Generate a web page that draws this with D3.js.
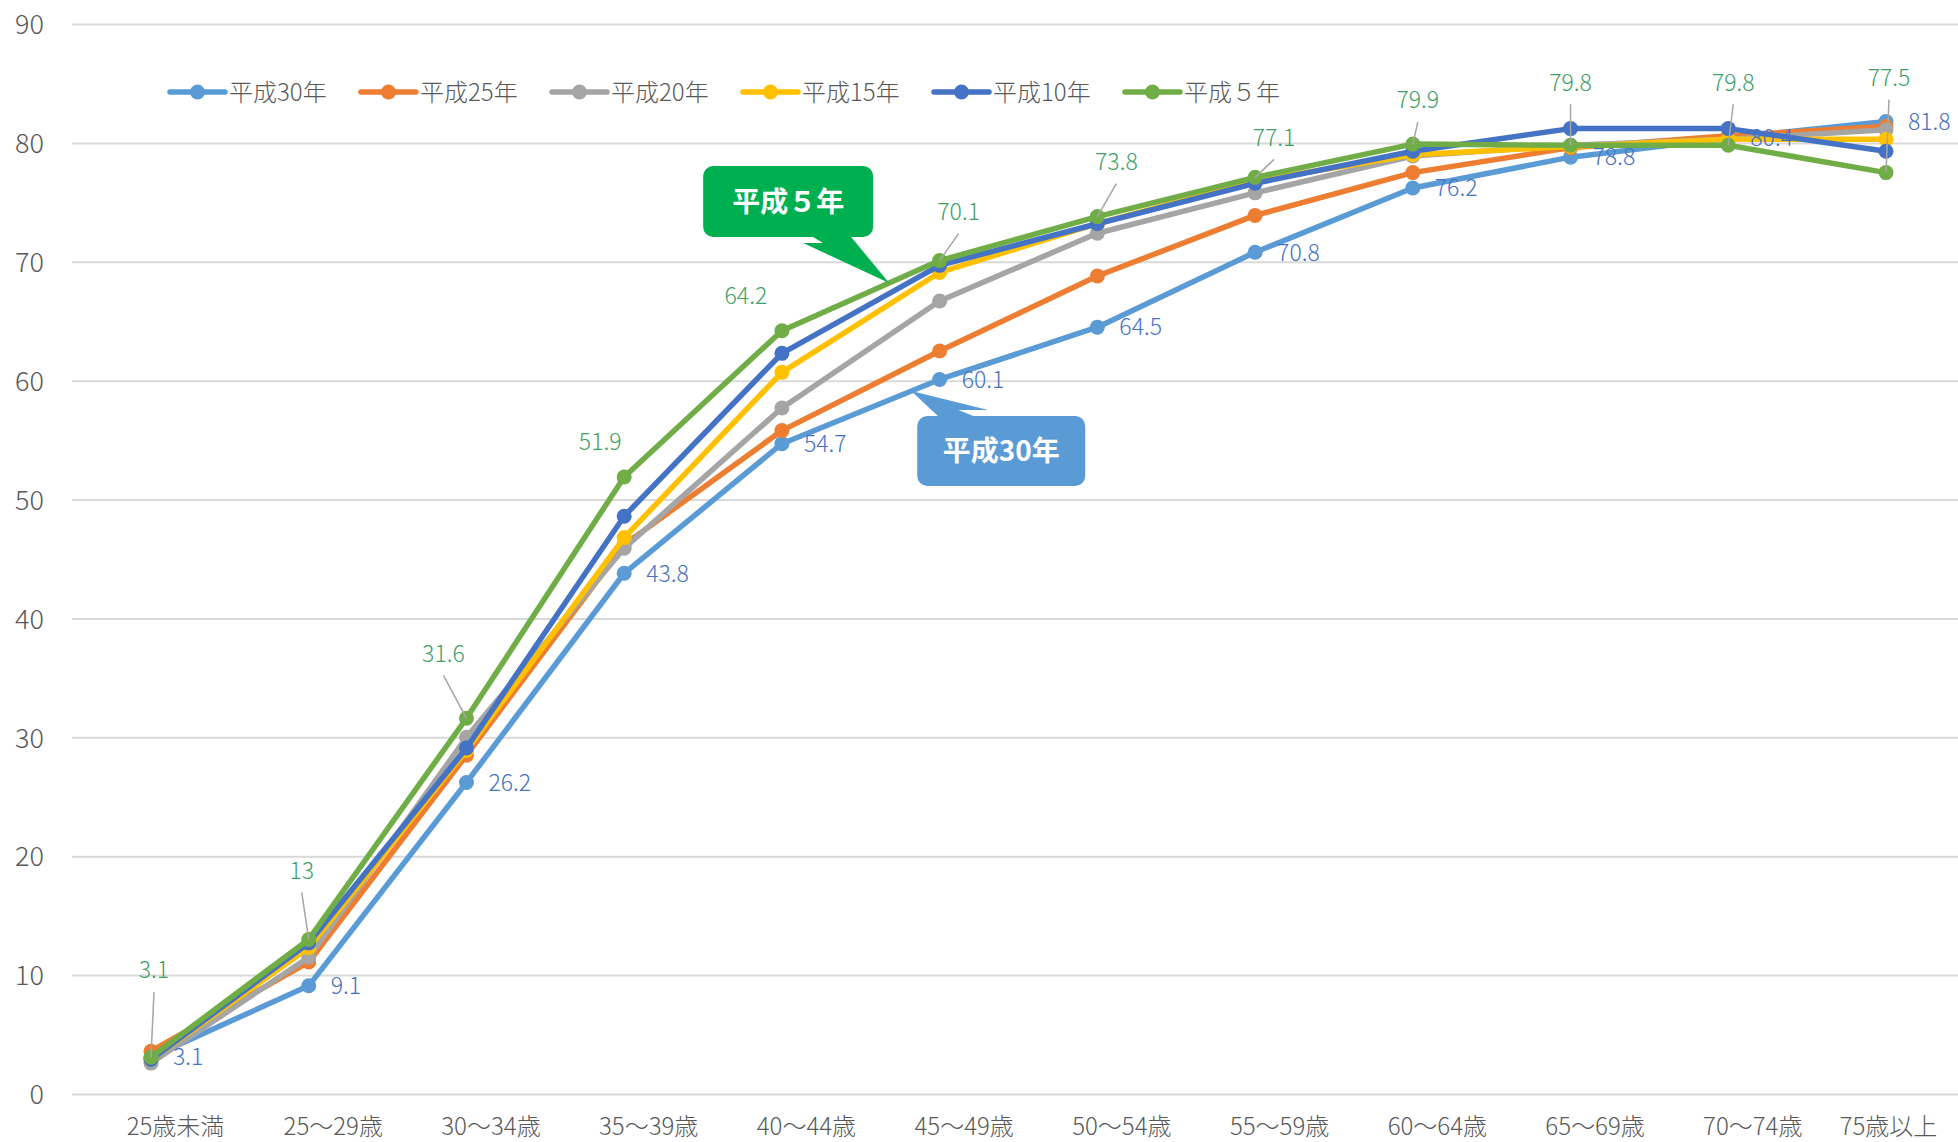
<!DOCTYPE html>
<html>
<head>
<meta charset="utf-8">
<script src="https://cdn.jsdelivr.net/npm/d3@7"></script>
<style>
body { margin: 0; background: #fff; }
text { font-family: "Noto Sans CJK JP", "Noto Sans", sans-serif; font-weight: 300; }
</style>
</head>
<body>
<script>
// categories / series
const categories = ['25歳未満', '25～29歳', '30～34歳', '35～39歳', '40～44歳', '45～49歳',
                    '50～54歳', '55～59歳', '60～64歳', '65～69歳', '70～74歳', '75歳以上'];
const seriesNames = ['平成30年', '平成25年', '平成20年', '平成15年', '平成10年', '平成５年'];

const h30 = [3.1, 9.1, 26.2, 43.8, 54.7, 60.1, 64.5, 70.8, 76.2, 78.8, 80.4, 81.8];
const h25 = [3.6, 11.1, 28.5, 46.2, 55.8, 62.5, 68.8, 73.9, 77.5, 79.6, 80.6, 81.4];
const h20 = [2.6, 11.5, 30.0, 45.9, 57.7, 66.7, 72.4, 75.8, 78.9, 79.8, 80.3, 81.1];
const h15 = [2.9, 12.3, 28.9, 46.8, 60.7, 69.1, 73.2, 76.8, 79.0, 79.7, 80.3, 80.3];
const h10 = [2.9, 12.7, 29.1, 48.6, 62.3, 69.7, 73.2, 76.6, 79.3, 81.2, 81.2, 79.3];
const h5  = [3.1, 13.0, 31.6, 51.9, 64.2, 70.1, 73.8, 77.1, 79.9, 79.8, 79.8, 77.5];

const yTicks = [0, 10, 20, 30, 40, 50, 60, 70, 80, 90];

// label placement for the 平成５年 data labels: [dx, dy, leader line?]
const h5LabelPos = [[3, -87, 1], [-7, -69, 1], [-23, -65, 1], [-24, -35, 0], [-36, -35, 0], [19, -49, 1],
                    [19, -55, 1], [19, -40, 1], [5, -44, 1], [0, -63, 1], [5, -63, 1], [3, -95, 1]];

const colors = ['#5b9bd5', '#ed7d31', '#a5a5a5', '#ffc000', '#4472c4', '#70ad47'];
const allSeries = [h30, h25, h20, h15, h10, h5];

let margin = {top: 24, right: 0, bottom: 48, left: 72},
    width = 1958 - margin.left - margin.right,
    height = 1142 - margin.top - margin.bottom;

let svg = d3.select("body")
            .append("svg")
            .attr('width', width + margin.left + margin.right)
            .attr('height', height + margin.top + margin.bottom);

let g = svg.append("g")
           .attr("transform", `translate(${margin.left}, ${margin.top})`);

let xScale = d3.scalePoint()
    .domain(categories)
    .range([79, 1814]);

let yScale = d3.scaleLinear()
    .domain([0, 90])
    .range([height, 0]);

// gridlines + y labels
const yAxis = d3.axisLeft(yScale)
    .tickValues(yTicks)
    .tickSize(-width)
    .tickPadding(28);

g.append("g")
    .call(yAxis)
    .call(a => a.select(".domain").remove())
    .call(a => a.selectAll(".tick line").attr("stroke", "#d9d9d9").attr("stroke-width", 2))
    .call(a => a.selectAll(".tick text")
        .attr("fill", "#595959")
        .style("font-size", "27px")
        .attr("dy", "0.36em"));

// x labels (Excel nudges them right of the points, last one pulled back in)
const xAxis = d3.axisBottom(xScale).tickSize(0).tickPadding(24);

g.append("g")
    .attr("transform", `translate(0, ${height})`)
    .call(xAxis)
    .call(a => a.select(".domain").remove())
    .call(a => a.selectAll(".tick text")
        .attr("fill", "#595959")
        .style("font-size", "24px")
        .attr("dx", (d, i) => i === categories.length - 1 ? 2 : 24));

// lines
const line = d3.line()
    .x((d, i) => xScale(categories[i]))
    .y(d => yScale(d));

allSeries.forEach((s, k) => {
    g.append("path")
        .datum(s)
        .attr("fill", "none")
        .attr("stroke", colors[k])
        .attr("stroke-width", 5.5)
        .attr("stroke-linejoin", "round")
        .attr("d", line);

    g.selectAll(".pt" + k)
        .data(s)
        .enter()
        .append("circle")
            .attr("cx", (d, i) => xScale(categories[i]))
            .attr("cy", d => yScale(d))
            .attr("r", 7.5)
            .attr("fill", colors[k]);
});

// data labels 平成30年
g.selectAll(".lab30")
    .data(h30)
    .enter()
    .append("text")
        .attr("x", (d, i) => xScale(categories[i]) + 22)
        .attr("y", d => yScale(d))
        .attr("dy", "0.36em")
        .attr("fill", "#4472c4")
        .style("font-size", "23px")
        .text(d => d);

// data labels 平成５年 with leader lines
h5.forEach((d, i) => {
    let px = xScale(categories[i]), py = yScale(d);
    let [dx, dy, lead] = h5LabelPos[i];
    if (lead) {
        g.append("line")
            .attr("x1", px).attr("y1", py)
            .attr("x2", px + dx).attr("y2", py + dy + 22)
            .attr("stroke", "#a6a6a6")
            .attr("stroke-width", 1.5);
    }
    g.append("text")
        .attr("x", px + dx)
        .attr("y", py + dy)
        .attr("dy", "0.36em")
        .attr("text-anchor", "middle")
        .attr("fill", "#3f9f67")
        .style("font-size", "23px")
        .text(d);
});

// callouts
function callout(tip, box, base, fill, label) {
    let c = g.append("g").attr("transform", `translate(${tip[0]}, ${tip[1]})`);
    let baseY = base[2];
    let inset = baseY > 0 ? 6 : -6;
    c.append("path")
        .attr("d", `M0,0L${base[0]},${baseY - inset}L${base[1]},${baseY - inset}Z`)
        .attr("fill", fill);
    c.append("path")
        .attr("d", `M0,0L${base[0]},${baseY + inset}L${base[1]},${baseY + inset}Z`)
        .attr("fill", fill);
    c.append("rect")
        .attr("x", box[0]).attr("y", box[1])
        .attr("width", box[2]).attr("height", box[3])
        .attr("rx", 10)
        .attr("fill", fill);
    c.append("text")
        .attr("x", box[0] + box[2] / 2)
        .attr("y", box[1] + box[3] / 2)
        .attr("dy", "0.36em")
        .attr("text-anchor", "middle")
        .attr("fill", "#fff")
        .style("font-size", "28px")
        .style("font-weight", "bold")
        .text(label);
}

function along(s, i, t) {
    let x0 = xScale(categories[i]), x1 = xScale(categories[i + 1]);
    return [x0 + (x1 - x0) * t, yScale(s[i] + (s[i + 1] - s[i]) * t)];
}

callout(along(h5, 4, 0.68), [-186, -117, 170, 71], [-86, -43, -46], "#00b050", seriesNames[5]);
callout(along(h30, 4, 0.82), [6, 25, 168, 70], [33, 77, 25], "#5b9bd5", seriesNames[0]);

// legend
let legend = svg.append("g")
    .attr("transform", "translate(170, 92)");

seriesNames.forEach((name, k) => {
    let item = legend.append("g").attr("transform", `translate(${k * 191}, 0)`);
    item.append("line")
        .attr("x1", 0).attr("x2", 55)
        .attr("stroke", colors[k])
        .attr("stroke-width", 5.5)
        .attr("stroke-linecap", "round");
    item.append("circle")
        .attr("cx", 27.5)
        .attr("r", 7.5)
        .attr("fill", colors[k]);
    item.append("text")
        .attr("x", 59)
        .attr("dy", "0.36em")
        .attr("fill", "#595959")
        .style("font-size", "24px")
        .text(name);
});
</script>
</body>
</html>
